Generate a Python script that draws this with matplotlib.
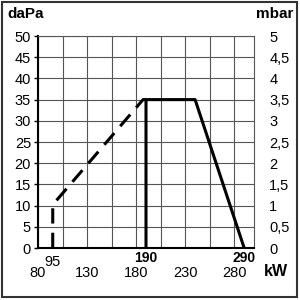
import matplotlib
matplotlib.use("Agg")
from matplotlib import pyplot as plt
from matplotlib.patches import Rectangle

plt.rcParams['font.family'] = ['Liberation Sans', 'DejaVu Sans']

# working field
solid_kw = [190, 190, 240, 290]
solid_dapa = [0, 35, 35, 0]
dash_kw = [95, 95, 98, 187, 190]
dash_dapa = [0, 10, 11, 35, 35]

x_ticks = [80, 130, 180, 230, 280]
y_ticks = list(range(0, 55, 5))
mbar_labels = ['0', '0,5', '1', '1,5', '2', '2,5', '3', '3,5', '4', '4,5', '5']

fig = plt.figure(figsize=(3, 3), dpi=100)
ax = fig.add_axes([38/300, 52/300, 216/300, 212/300])

ax.set_xlim(80, 300)
ax.set_ylim(0, 50)
ax.set_xticks(range(80, 301, 25), minor=False)
ax.set_xticklabels([])
ax.set_yticks(y_ticks)
ax.set_yticklabels([str(v) for v in y_ticks], fontsize=10.5)
ax.grid(True, color='#555555', linewidth=0.8)
ax.tick_params(axis='x', length=0)
ax.tick_params(axis='y', length=3, width=1, pad=2)
for s in ['left', 'bottom']:
    ax.spines[s].set_linewidth(1.5)
for s in ['top', 'right']:
    ax.spines[s].set_linewidth(0.8)
    ax.spines[s].set_color('#555555')

ax.plot(solid_kw, solid_dapa, color='black', lw=2.2, solid_capstyle='butt', clip_on=False)
ax.plot(dash_kw, dash_dapa, color='black', lw=2.2, dashes=(5, 3), clip_on=False)

for xv in x_ticks:
    ax.text(xv, -6.0, str(xv), ha='center', va='center', fontsize=10.5)
ax.text(95, -3.4, '95', ha='center', va='center', fontsize=10.5)
ax.text(190, -2.4, '190', ha='center', va='center', fontsize=10, fontweight='bold')
ax.text(290, -2.4, '290', ha='center', va='center', fontsize=10, fontweight='bold')

ax2 = ax.twinx()
ax2.set_ylim(0, 5)
ax2.set_yticks([i * 0.5 for i in range(11)])
ax2.set_yticklabels(mbar_labels, fontsize=10.5)
ax2.tick_params(axis='y', length=0, pad=11)
for s in ax2.spines.values():
    s.set_visible(False)

fig.text(7/300, 1 - 14/300, 'daPa', ha='left', va='center', fontsize=11, fontweight='bold')
fig.text(293/300, 1 - 14/300, 'mbar', ha='right', va='center', fontsize=11, fontweight='bold')
fig.text(276/300, 1 - 271/300, 'kW', ha='center', va='center', fontsize=11.5, fontweight='bold')

fig.patches.append(Rectangle((2/300, 3/300), 295/300, 295/300, transform=fig.transFigure,
                             fill=False, edgecolor='#333333', linewidth=1.5))

fig.savefig('out.png', dpi=100)
